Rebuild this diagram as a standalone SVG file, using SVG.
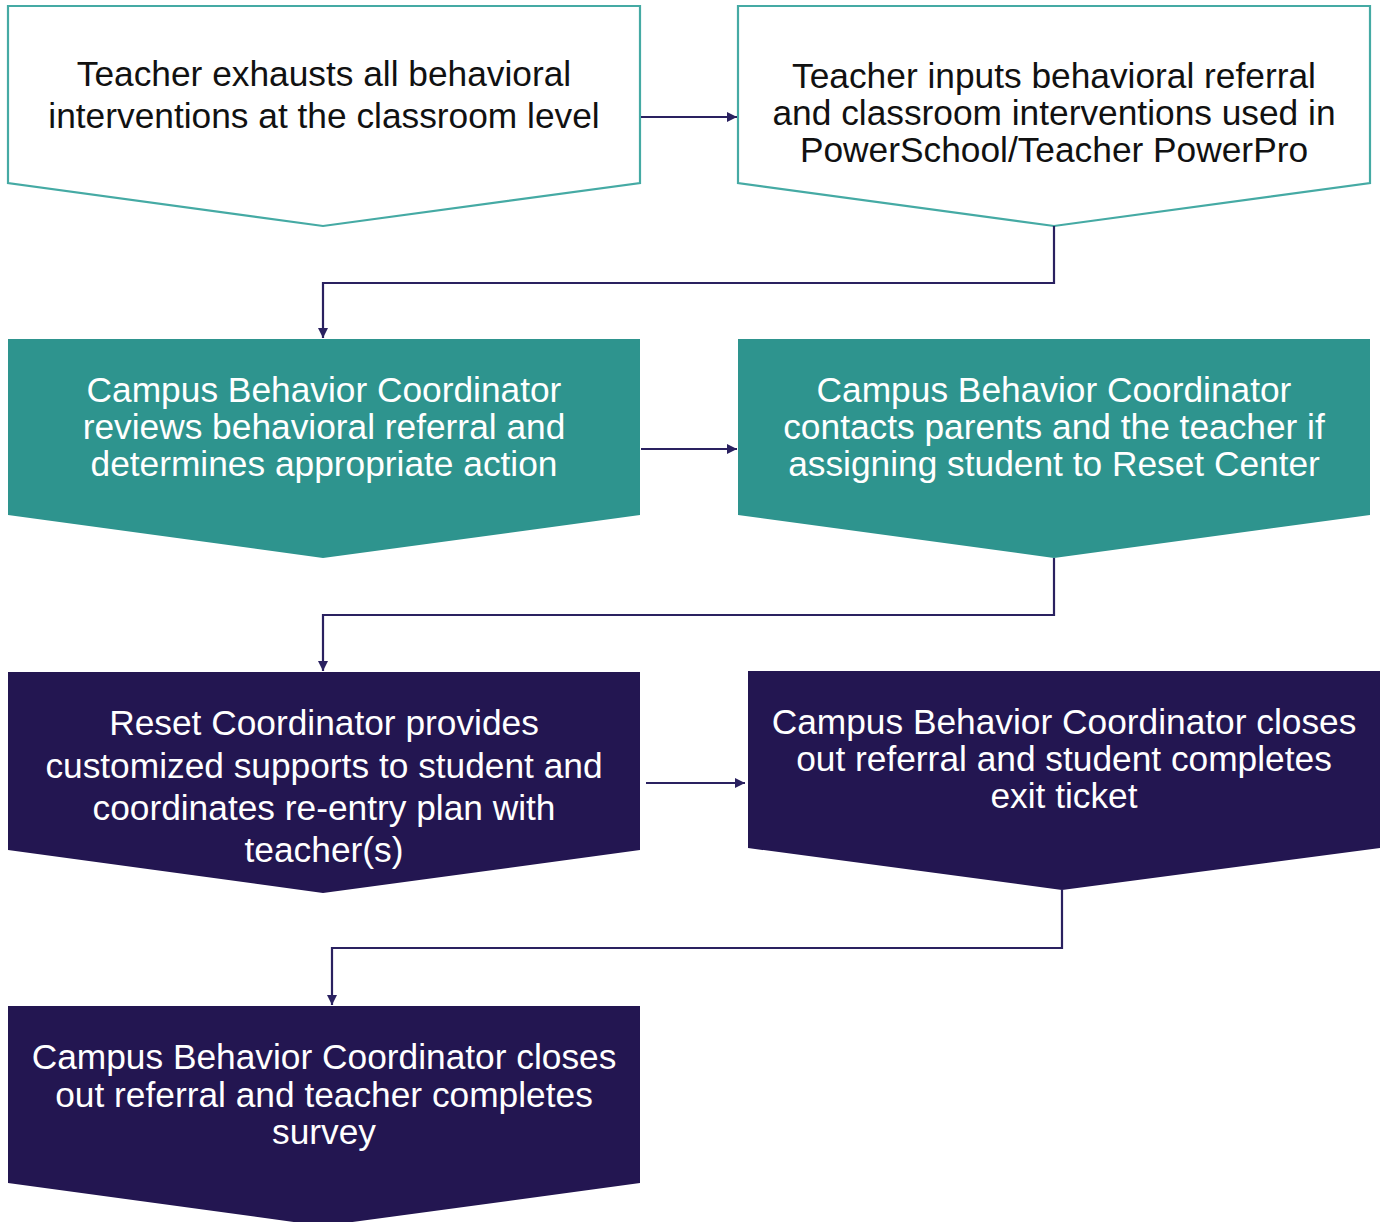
<svg xmlns="http://www.w3.org/2000/svg" width="1387" height="1222" viewBox="0 0 1387 1222">
<defs>
<marker id="ah" viewBox="0 0 10 10" refX="10" refY="5" markerWidth="11" markerHeight="10" markerUnits="userSpaceOnUse" orient="auto">
<path d="M0,0 L10,5 L0,10 z" fill="#2a2160"/>
</marker>
<style>
.t{font-family:"Liberation Sans",Arial,sans-serif;font-size:35.3px;text-anchor:middle}
.dark{fill:#111111}
.light{fill:#ffffff}
.white{fill:#ffffff;stroke:#45aaa4;stroke-width:2.2}
.teal{fill:#2e948e}
.navy{fill:#231651}
.c{fill:none;stroke:#2a2160;stroke-width:2.2;marker-end:url(#ah)}
</style>
</defs>
<rect width="1387" height="1222" fill="#ffffff"/>
<g id="n1">
<path class="white" d="M8,6 H640 V183 L323,226 L8,183 Z"/>
<text class="t dark" x="324" y="86">Teacher exhausts all behavioral</text>
<text class="t dark" x="324" y="128">interventions at the classroom level</text>
</g>
<g id="n2">
<path class="white" d="M738,6 H1370 V183 L1054,226 L738,183 Z"/>
<text class="t dark" x="1054" y="88">Teacher inputs behavioral referral</text>
<text class="t dark" x="1054" y="125">and classroom interventions used in</text>
<text class="t dark" x="1054" y="162">PowerSchool/Teacher PowerPro</text>
</g>
<g id="n3">
<path class="teal" d="M8,339 H640 V515 L323,558 L8,515 Z"/>
<text class="t light" x="324" y="402">Campus Behavior Coordinator</text>
<text class="t light" x="324" y="439">reviews behavioral referral and</text>
<text class="t light" x="324" y="476">determines appropriate action</text>
</g>
<g id="n4">
<path class="teal" d="M738,339 H1370 V515 L1054,558 L738,515 Z"/>
<text class="t light" x="1054" y="402">Campus Behavior Coordinator</text>
<text class="t light" x="1054" y="439">contacts parents and the teacher if</text>
<text class="t light" x="1054" y="476">assigning student to Reset Center</text>
</g>
<g id="n5">
<path class="navy" d="M8,672 H640 V850 L323,893 L8,850 Z"/>
<text class="t light" x="324" y="735">Reset Coordinator provides</text>
<text class="t light" x="324" y="778">customized supports to student and</text>
<text class="t light" x="324" y="820">coordinates re-entry plan with</text>
<text class="t light" x="324" y="862">teacher(s)</text>
</g>
<g id="n6">
<path class="navy" d="M748,671 H1380 V848 L1062,890 L748,848 Z"/>
<text class="t light" x="1064" y="734">Campus Behavior Coordinator closes</text>
<text class="t light" x="1064" y="771">out referral and student completes</text>
<text class="t light" x="1064" y="808">exit ticket</text>
</g>
<g id="n7">
<path class="navy" d="M8,1006 H640 V1183 L323,1226 L8,1183 Z"/>
<text class="t light" x="324" y="1069">Campus Behavior Coordinator closes</text>
<text class="t light" x="324" y="1107">out referral and teacher completes</text>
<text class="t light" x="324" y="1144">survey</text>
</g>
<g id="connectors">
<path class="c" d="M641,117 H737"/>
<path class="c" d="M1054,226 V283 H323 V338"/>
<path class="c" d="M641,449 H737"/>
<path class="c" d="M1054,558 V615 H323 V671"/>
<path class="c" d="M646,783 H745"/>
<path class="c" d="M1062,890 V948 H332 V1005"/>
</g>
</svg>
